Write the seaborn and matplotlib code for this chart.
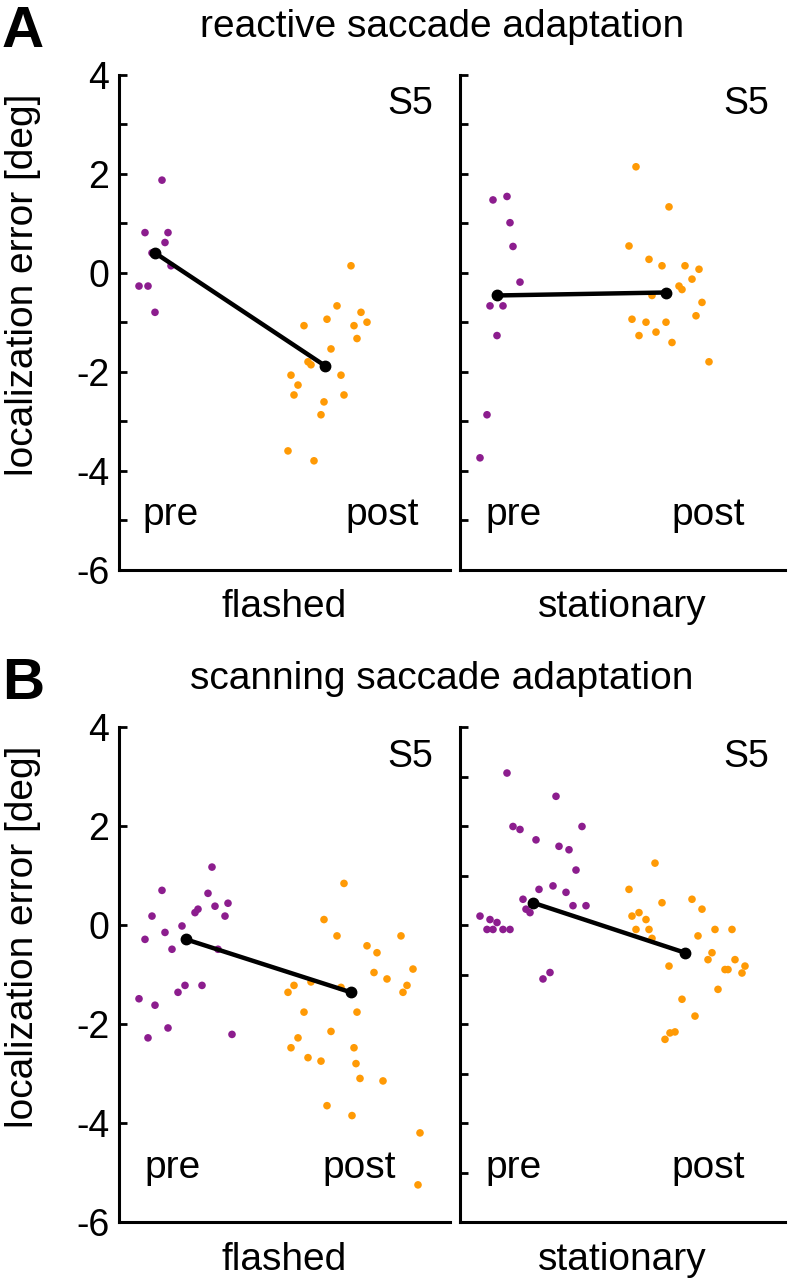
import numpy as np
import pandas as pd
import matplotlib.pyplot as plt
import seaborn as sns

plt.switch_backend('Agg')

# ---------------------------------------------------------------
# Data (subject S5)
# x = jittered horizontal position within a panel, y = localization error [deg]
# ---------------------------------------------------------------

# A: reactive saccade adaptation, flashed
a_flash_pre_x = [43, 26, 49, 46, 33, 52, 20, 29, 36]
a_flash_pre_y = [1.87, 0.81, 0.81, 0.61, 0.40, 0.14, -0.27, -0.27, -0.80]
a_flash_post_x = [232, 218, 242, 208, 248, 185, 235, 238, 212, 189, 192, 172, 222, 179,
                  175, 225, 205, 202, 169, 195]
a_flash_post_y = [0.14, -0.67, -0.80, -0.94, -1.00, -1.07, -1.07, -1.33, -1.54, -1.80,
                  -1.86, -2.07, -2.07, -2.27, -2.47, -2.47, -2.61, -2.87, -3.60, -3.80]
a_flash_mean_x = [36, 206]
a_flash_mean_y = [0.40, -1.88]

# A: reactive saccade adaptation, stationary
a_stat_pre_x = [33, 47, 50, 53, 60, 30, 43, 37, 27, 20]
a_stat_pre_y = [1.47, 1.54, 1.01, 0.53, -0.19, -0.67, -0.67, -1.27, -2.87, -3.74]
a_stat_post_x = [176, 209, 169, 189, 202, 225, 239, 232, 219, 222, 192, 242, 236, 172,
                 186, 206, 179, 196, 212, 249]
a_stat_post_y = [2.14, 1.33, 0.54, 0.27, 0.14, 0.14, 0.07, -0.13, -0.27, -0.34, -0.46,
                 -0.60, -0.87, -0.94, -1.00, -1.00, -1.27, -1.20, -1.41, -1.80]
a_stat_mean_x = [37, 206]
a_stat_mean_y = [-0.46, -0.40]

# B: scanning saccade adaptation, flashed
b_flash_pre_x = [93, 43, 89, 96, 109, 79, 76, 106, 33, 63, 46, 26, 53, 99, 66, 59, 83,
                 20, 36, 49, 29, 113]
b_flash_pre_y = [1.17, 0.70, 0.64, 0.38, 0.44, 0.32, 0.25, 0.18, 0.18, -0.02, -0.15,
                 -0.29, -0.49, -0.49, -1.22, -1.36, -1.22, -1.49, -1.62, -2.08, -2.28, -2.21]
b_flash_post_x = [225, 205, 218, 282, 248, 258, 294, 255, 268, 175, 192, 169, 222, 288,
                  284, 185, 238, 212, 179, 172, 235, 189, 202, 237, 241, 264, 208, 233,
                  301, 299]
b_flash_post_y = [0.84, 0.11, -0.22, -0.22, -0.42, -0.56, -0.89, -0.96, -1.09, -1.22,
                  -1.15, -1.36, -1.26, -1.22, -1.36, -1.76, -1.76, -2.15, -2.28, -2.48,
                  -2.48, -2.68, -2.75, -2.80, -3.10, -3.15, -3.65, -3.85, -4.20, -5.25]
b_flash_mean_x = [67, 232]
b_flash_mean_y = [-0.29, -1.36]

# B: scanning saccade adaptation, stationary
b_stat_pre_x = [47, 96, 53, 60, 122, 76, 99, 109, 116, 93, 79, 106, 63, 113, 126, 66,
                70, 20, 30, 37, 27, 33, 43, 50, 90, 83]
b_stat_pre_y = [3.07, 2.60, 1.99, 1.93, 1.99, 1.72, 1.59, 1.52, 1.11, 0.79, 0.72, 0.66,
                0.52, 0.39, 0.39, 0.32, 0.25, 0.18, 0.11, 0.05, -0.09, -0.09, -0.09,
                -0.09, -0.96, -1.09]
b_stat_post_x = [195, 169, 232, 202, 242, 179, 172, 186, 176, 189, 255, 272, 192, 238,
                 252, 248, 275, 209, 265, 268, 285, 282, 258, 222, 235, 215, 210, 205]
b_stat_post_y = [1.25, 0.72, 0.52, 0.45, 0.32, 0.25, 0.18, 0.11, -0.09, -0.09, -0.09,
                 -0.09, -0.27, -0.22, -0.56, -0.70, -0.70, -0.83, -0.90, -0.90, -0.83,
                 -0.97, -1.30, -1.50, -1.84, -2.16, -2.18, -2.31]
b_stat_mean_x = [73, 225]
b_stat_mean_y = [0.45, -0.56]

conditions = ['flashed', 'stationary']
phases = ['pre', 'post']
titles = ['reactive saccade adaptation', 'scanning saccade adaptation']
panel_letters = ['A', 'B']
subject = 'S5'

PURPLE = '#8c1d8e'
ORANGE = '#ff9a05'


def make_df(pre_x, pre_y, post_x, post_y):
    return pd.DataFrame({
        'x': pre_x + post_x,
        'y': pre_y + post_y,
        'phase': ['pre'] * len(pre_x) + ['post'] * len(post_x),
    })


panels = {
    (0, 0): (make_df(a_flash_pre_x, a_flash_pre_y, a_flash_post_x, a_flash_post_y),
             a_flash_mean_x, a_flash_mean_y),
    (0, 1): (make_df(a_stat_pre_x, a_stat_pre_y, a_stat_post_x, a_stat_post_y),
             a_stat_mean_x, a_stat_mean_y),
    (1, 0): (make_df(b_flash_pre_x, b_flash_pre_y, b_flash_post_x, b_flash_post_y),
             b_flash_mean_x, b_flash_mean_y),
    (1, 1): (make_df(b_stat_pre_x, b_stat_pre_y, b_stat_post_x, b_stat_post_y),
             b_stat_mean_x, b_stat_mean_y),
}

# where the "pre" / "post" words sit in each panel (centre x, same units as data)
word_pos = {
    (0, 0): (52, 263),
    (0, 1): (54, 248),
    (1, 0): (54, 240),
    (1, 1): (54, 248),
}

sns.set_theme(style='ticks')
plt.rcParams['font.family'] = ['Liberation Sans', 'DejaVu Sans']
plt.rcParams['axes.unicode_minus'] = True
for key in ['text.color', 'axes.labelcolor', 'xtick.color', 'ytick.color',
            'axes.edgecolor']:
    plt.rcParams[key] = 'black'

W, H = 791, 1280
fig = plt.figure(figsize=(W / 100, H / 100), dpi=100)

FS = 28
row_top = [74.7, 727.0]       # pixel y of the +4 line per row
ax_h = 495.0
col_left = [119.0, 460.0]
col_w = [331.0, 325.0]

for r in range(2):
    for c in range(2):
        left = col_left[c] / W
        bottom = (H - row_top[r] - ax_h) / H
        ax = fig.add_axes([left, bottom, col_w[c] / W, ax_h / H])
        df, mx, my = panels[(r, c)]

        sns.scatterplot(data=df, x='x', y='y', hue='phase',
                        palette={'pre': PURPLE, 'post': ORANGE},
                        s=30, linewidth=0, legend=False, ax=ax, zorder=2)
        ax.plot(mx, my, color='black', lw=3.2, marker='o', markersize=7.5,
                solid_capstyle='round', zorder=3)

        ax.set_xlim(0, col_w[c])
        ax.set_ylim(-6, 4)
        ax.set_xticks([])
        if r == 1 and c == 0:
            ax.set_yticks(np.arange(-6, 5, 2))
        else:
            ax.set_yticks(np.arange(-6, 5, 1))
        if c == 0:
            ax.set_yticklabels([str(v) if v % 2 == 0 else '' for v in ax.get_yticks().astype(int)])
        else:
            ax.set_yticklabels([])
        ax.tick_params(axis='y', direction='in', length=6, width=2.0,
                       labelsize=FS - 1, pad=7, colors='black')
        ax.set_xlabel('')
        ax.set_ylabel('')
        sns.despine(ax=ax)
        for side in ['left', 'bottom']:
            ax.spines[side].set_linewidth(2.2)
            ax.spines[side].set_color('black')

        ax.text(0.95, 0.94, subject, transform=ax.transAxes, ha='right', va='center',
                fontsize=FS - 1)
        px, qx = word_pos[(r, c)]
        ax.text(px, -4.9, phases[0], ha='center', va='center', fontsize=FS)
        ax.text(qx, -4.9, phases[1], ha='center', va='center', fontsize=FS)
        ax.text(0.5, -0.096, conditions[c], transform=ax.transAxes, ha='center',
                va='baseline', fontsize=FS)

    off = row_top[r] - row_top[0]
    fig.text(442 / W, 1 - (37 + off) / H, titles[r], ha='center', va='baseline',
             fontsize=FS)
    fig.text(2 / W, 1 - (47 + off) / H, panel_letters[r], ha='left', va='baseline',
             fontsize=42, fontweight='bold')
    fig.text(23 / W, 1 - (285 + off) / H, 'localization error [deg]', rotation=90,
             ha='center', va='center', fontsize=FS)

fig.savefig('out.png', dpi=100)
plt.close(fig)
